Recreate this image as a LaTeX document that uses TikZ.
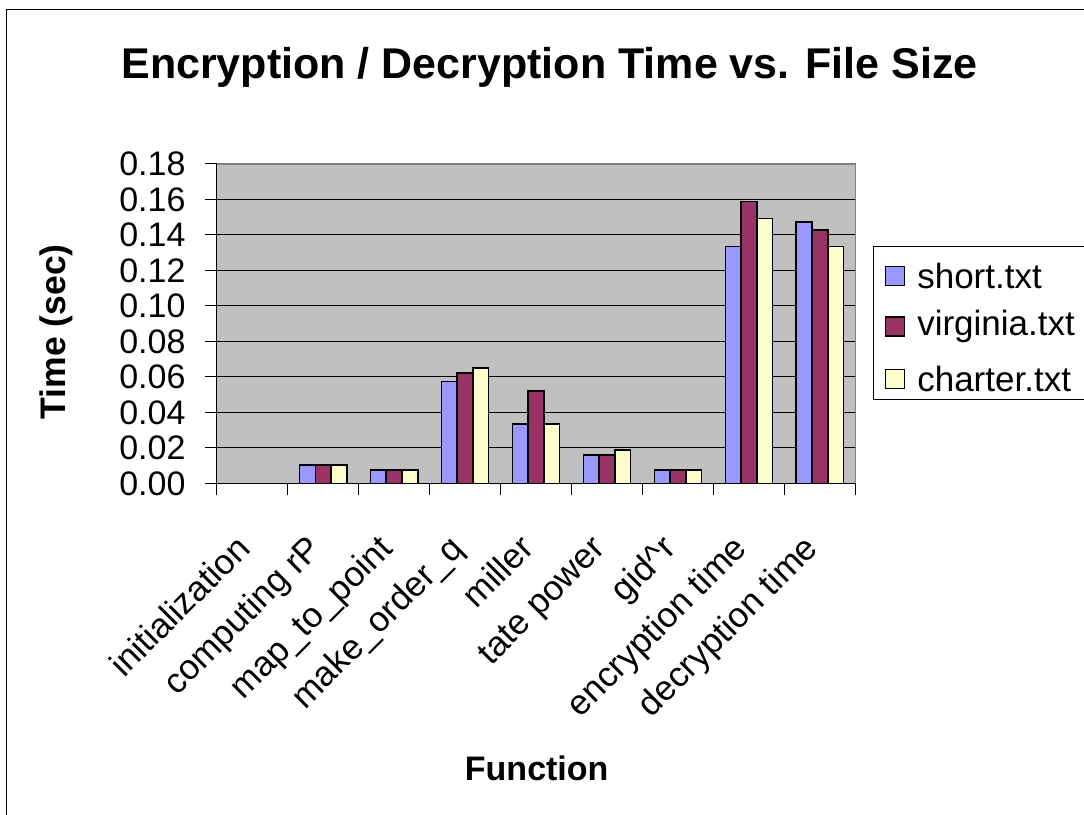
\documentclass[tikz,border=0pt]{standalone}
\usepackage{fontspec}
\setmainfont{Liberation Sans}
\usepackage{tikz}
\usetikzlibrary{positioning}
\definecolor{shortblue}{HTML}{9999FF}
\definecolor{virginiared}{HTML}{993366}
\definecolor{charteryellow}{HTML}{FFFFCC}
\definecolor{plotgrey}{HTML}{C0C0C0}
\definecolor{bordergrey}{HTML}{808080}
\newcommand{\bargroup}[3]{\draw[barline, fill = shortblue] (0.1667,0) rectangle (0.3889,#1);
					\draw[barline, fill = virginiared] (0.3889,0) rectangle (0.6111,#2);
					\draw[barline, fill = charteryellow] (0.6111,0) rectangle (0.8333,#3);}
\tikzset{
	barline/.style = {draw = black, line width = 1.5pt},
	ticklabel/.style = {anchor = east, inner sep = 0pt, font = \fontsize{34}{38}\selectfont},
	catlabel/.style = {rotate = 45, anchor = base east, inner sep = 0pt, font = \fontsize{35}{40}\selectfont},
	axislabel/.style = {inner sep = 0pt, font = \fontsize{34}{40}\selectfont\bfseries},
	legendkey/.style = {draw = black, line width = 1.2pt, minimum size = 19pt, inner sep = 0pt},
	legendtext/.style = {inner sep = 0pt, font = \fontsize{35}{40}\selectfont}
}

\begin{document}
\begin{tikzpicture}[x = 1pt, y = 1pt]

	\clip (0,0) rectangle (1084,814);
	\draw[line width = 1.5pt] (6.3,-20) -- (6.3,804.3) -- (1100,804.3);

	\node[inner sep = 0pt, anchor = base, font = \fontsize{43}{50}\selectfont\bfseries] (title) at (549.5,735) {Encryption / Decryption Time vs. File Size};

	\begin{scope}[shift = {(216.7pt,330.7pt)}, x = 70.96pt, y = 1774pt]

		\fill[plotgrey] (0,0) rectangle (9,0.18);
		\draw[line width = 1pt] (0,0.02) -- (9,0.02) (0,0.04) -- (9,0.04)
			(0,0.06) -- (9,0.06) (0,0.08) -- (9,0.08)
			(0,0.10) -- (9,0.10) (0,0.12) -- (9,0.12)
			(0,0.14) -- (9,0.14) (0,0.16) -- (9,0.16);
		\draw[bordergrey, line width = 1.5pt] (0,0.18) -- (9,0.18) -- (9,0);
		\draw[line width = 1.5pt] (0,0.18) -- (0,0) -- (9,0);

		\draw[line width = 1pt] (-0.165,0) -- (0,0) (-0.165,0.02) -- (0,0.02)
			(-0.165,0.04) -- (0,0.04) (-0.165,0.06) -- (0,0.06)
			(-0.165,0.08) -- (0,0.08) (-0.165,0.10) -- (0,0.10)
			(-0.165,0.12) -- (0,0.12) (-0.165,0.14) -- (0,0.14)
			(-0.165,0.16) -- (0,0.16) (-0.165,0.18) -- (0,0.18);
		\draw[line width = 1pt] (0,0) -- (0,-0.0066) (1,0) -- (1,-0.0066)
			(2,0) -- (2,-0.0066) (3,0) -- (3,-0.0066) (4,0) -- (4,-0.0066)
			(5,0) -- (5,-0.0066) (6,0) -- (6,-0.0066) (7,0) -- (7,-0.0066)
			(8,0) -- (8,-0.0066) (9,0) -- (9,-0.0066);

		\begin{scope}[shift = {(1,0)}]
			\bargroup{0.0103}{0.0103}{0.0103}
		\end{scope}

		\begin{scope}[shift = {(2,0)}]
			\bargroup{0.0075}{0.0075}{0.0075}
		\end{scope}

		\begin{scope}[shift = {(3,0)}]
			\bargroup{0.0575}{0.0621}{0.0650}
		\end{scope}

		\begin{scope}[shift = {(4,0)}]
			\bargroup{0.0334}{0.0520}{0.0334}
		\end{scope}

		\begin{scope}[shift = {(5,0)}]
			\bargroup{0.0160}{0.0160}{0.0187}
		\end{scope}

		\begin{scope}[shift = {(6,0)}]
			\bargroup{0.0075}{0.0075}{0.0075}
		\end{scope}

		\begin{scope}[shift = {(7,0)}]
			\bargroup{0.1335}{0.1587}{0.1493}
		\end{scope}

		\begin{scope}[shift = {(8,0)}]
			\bargroup{0.1474}{0.1429}{0.1335}
		\end{scope}

		\node[ticklabel] (y000) at (-0.437,0) {0.00};
		\node[ticklabel] (y002) at (-0.437,0.02) {0.02};
		\node[ticklabel] (y004) at (-0.437,0.04) {0.04};
		\node[ticklabel] (y006) at (-0.437,0.06) {0.06};
		\node[ticklabel] (y008) at (-0.437,0.08) {0.08};
		\node[ticklabel] (y010) at (-0.437,0.10) {0.10};
		\node[ticklabel] (y012) at (-0.437,0.12) {0.12};
		\node[ticklabel] (y014) at (-0.437,0.14) {0.14};
		\node[ticklabel] (y016) at (-0.437,0.16) {0.16};
		\node[ticklabel] (y018) at (-0.437,0.18) {0.18};

		\node[catlabel] (init) at (0.5,-0.0378) {initialization};
		\node[catlabel] (comprp) at (1.5,-0.0378) {computing rP};
		\node[catlabel] (maptopt) at (2.5,-0.0378) {map\_to\_point};
		\node[catlabel] (mkorder) at (3.5,-0.0378) {make\_order\_q};
		\node[catlabel] (miller) at (4.5,-0.0378) {miller};
		\node[catlabel] (tate) at (5.5,-0.0378) {tate power};
		\node[catlabel] (gidr) at (6.5,-0.0378) {gid\^{}r};
		\node[catlabel] (enctime) at (7.5,-0.0378) {encryption time};
		\node[catlabel] (dectime) at (8.5,-0.0378) {decryption time};

	\end{scope}

	\node[axislabel, rotate = 90, font = \fontsize{35.5}{40}\selectfont\bfseries] (ylab) at (56,482.3) {Time (sec)};
	\node[axislabel, anchor = base] (xlab) at (536.7,34) {Function};

	\draw[line width = 1.2pt] (873.3,414.7) rectangle (1100,567.3);
	\node[legendkey, fill = shortblue] (kshort) at (895,538) {};
	\node[legendkey, fill = virginiared] (kvirg) at (895,487.5) {};
	\node[legendkey, fill = charteryellow] (kchart) at (895,435) {};
	\node[legendtext, right = 12pt of kshort] (lshort) {short.txt};
	\node[legendtext, right = 12pt of kvirg] (lvirg) {virginia.txt};
	\node[legendtext, right = 12pt of kchart] (lchart) {charter.txt};

\end{tikzpicture}
\end{document}
